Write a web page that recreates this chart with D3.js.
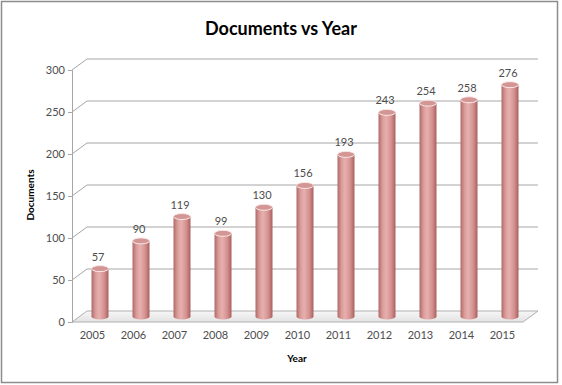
<!DOCTYPE html>
<html lang="en">
<head>
    <meta charset="UTF-8">
    <title>Documents vs Year</title>
    <script src="https://d3js.org/d3.v7.min.js"></script>
    <style>
        body { margin: 0; background: #fff; }
        text { font-family: Lato, "Open Sans", sans-serif; }
    </style>
</head>
<body>
<svg id="chart" width="562" height="385"></svg>

<script>
    const years = ["2005", "2006", "2007", "2008", "2009", "2010", "2011", "2012", "2013", "2014", "2015"];
    const documents = [57, 90, 119, 99, 130, 156, 193, 243, 254, 258, 276];
    const yTicks = [0, 50, 100, 150, 200, 250, 300];

    const svg = d3.select("#chart");

    // depth of the 3d box
    const dx = 15, dy = -11;
    const plotLeft = 72, plotRight = 523, plotBottom = 322, plotTop = 70;

    const x = d3.scaleBand().domain(years).range([plotLeft, plotRight]);
    const y = d3.scaleLinear().domain([0, 300]).range([plotBottom, plotTop]);

    // outer border
    svg.append("rect")
        .attr("x", 1.5).attr("y", 1.5)
        .attr("width", 556).attr("height", 381)
        .attr("fill", "#fff").attr("stroke", "#8c8c8c").attr("stroke-width", 1.5);

    const defs = svg.append("defs");
    const grad = defs.append("linearGradient").attr("id", "cyl");
    grad.append("stop").attr("offset", "0%").attr("stop-color", "#b06a68");
    grad.append("stop").attr("offset", "25%").attr("stop-color", "#db9e9c");
    grad.append("stop").attr("offset", "45%").attr("stop-color", "#e6b0ae");
    grad.append("stop").attr("offset", "75%").attr("stop-color", "#d49190");
    grad.append("stop").attr("offset", "100%").attr("stop-color", "#a8605e");

    const floorGrad = defs.append("linearGradient").attr("id", "floor")
        .attr("x1", 0).attr("y1", 0).attr("x2", 0).attr("y2", 1);
    floorGrad.append("stop").attr("offset", "0%").attr("stop-color", "#f7f7f7");
    floorGrad.append("stop").attr("offset", "100%").attr("stop-color", "#e2e2e2");

    // floor
    svg.append("path")
        .attr("d", "M" + plotLeft + "," + plotBottom + "L" + plotRight + "," + plotBottom +
            "L" + (plotRight + dx) + "," + (plotBottom + dy) + "L" + (plotLeft + dx) + "," + (plotBottom + dy) + "Z")
        .attr("fill", "url(#floor)")
        .attr("stroke", "#b0b0b0").attr("stroke-width", 1);

    // gridlines on side and back walls
    svg.append("g")
        .selectAll("path")
        .data(yTicks.filter(function (d) { return d > 0; })).enter()
        .append("path")
        .attr("d", function (d) {
            return "M" + plotLeft + "," + y(d) + "L" + (plotLeft + dx) + "," + (y(d) + dy) +
                "L" + (plotRight + dx) + "," + (y(d) + dy);
        })
        .attr("fill", "none")
        .attr("stroke", "#a6a6a6").attr("stroke-width", 1);

    // y axis
    const yAxis = svg.append("g")
        .attr("transform", "translate(" + plotLeft + ",0)")
        .call(d3.axisLeft(y).tickValues(yTicks).tickSize(4).tickPadding(3));
    yAxis.select(".domain").attr("stroke", "#a6a6a6");
    yAxis.selectAll(".tick line").attr("stroke", "#a6a6a6");
    yAxis.selectAll("text")
        .attr("fill", "#4d4d4d")
        .style("font-size", "11px");

    // x axis labels
    const xAxis = svg.append("g")
        .attr("transform", "translate(0," + plotBottom + ")")
        .call(d3.axisBottom(x).tickSize(0).tickPadding(9));
    xAxis.select(".domain").remove();
    xAxis.selectAll("text")
        .attr("fill", "#4d4d4d")
        .style("font-size", "11px");

    // cylinders
    const rx = 8.5, ry = 3;
    const bars = svg.append("g")
        .selectAll("g")
        .data(years.map(function (yr, i) { return { year: yr, value: documents[i] }; }))
        .enter().append("g")
        .attr("transform", function (d) {
            return "translate(" + (x(d.year) + x.bandwidth() / 2 + dx / 2) + "," + (dy / 2) + ")";
        });

    bars.append("path")
        .attr("d", function (d) {
            const yt = y(d.value), yb = y(0);
            return "M" + (-rx) + "," + yt + "L" + (-rx) + "," + yb +
                "A" + rx + "," + ry + " 0 0 0 " + rx + "," + yb +
                "L" + rx + "," + yt + "Z";
        })
        .attr("fill", "url(#cyl)");

    bars.append("ellipse")
        .attr("cx", 0)
        .attr("cy", function (d) { return y(d.value); })
        .attr("rx", rx).attr("ry", ry)
        .attr("fill", "#d49694")
        .attr("stroke", "#f8e8e7").attr("stroke-width", 1);

    bars.append("text")
        .attr("x", -2)
        .attr("y", function (d) { return y(d.value) - 8; })
        .attr("text-anchor", "middle")
        .attr("fill", "#4d4d4d")
        .style("font-size", "11px")
        .text(function (d) { return d.value; });

    // titles
    svg.append("text")
        .attr("x", 281).attr("y", 35)
        .attr("text-anchor", "middle")
        .style("font-size", "18px").style("font-weight", "bold")
        .text("Documents vs Year");

    svg.append("text")
        .attr("x", 297).attr("y", 362)
        .attr("text-anchor", "middle")
        .style("font-size", "10px").style("font-weight", "bold")
        .text("Year");

    svg.append("text")
        .attr("transform", "translate(34,195) rotate(-90)")
        .attr("text-anchor", "middle")
        .style("font-size", "10px").style("font-weight", "bold")
        .text("Documents");
</script>
</body>
</html>
